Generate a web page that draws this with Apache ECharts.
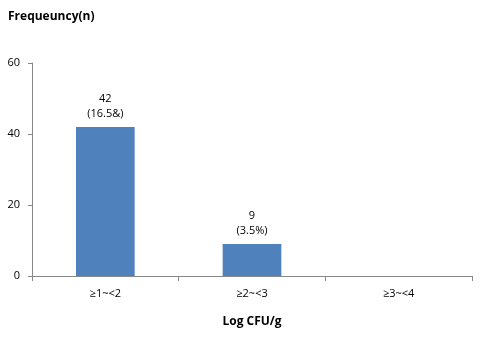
<!DOCTYPE html>
<html><head><meta charset="utf-8">
<script src="https://cdn.jsdelivr.net/npm/echarts@6/dist/echarts.min.js"></script>
<style>html,body{margin:0;padding:0;background:#fff}#c{width:482px;height:338px}</style>
</head><body><div id="c"></div>
<script>
var categories = ['≥1~<2', '≥2~<3', '≥3~<4'];
var values = [42, 9, 0];
var pointLabels = ['42\n(16.5&)', '9\n(3.5%)', ''];
var yTicks = [0, 20, 40, 60];

var chart = echarts.init(document.getElementById('c'));
var font = '"Open Sans", "DejaVu Sans", sans-serif';
chart.setOption({
  animation: false,
  textStyle: {fontFamily: font},
  title: {text: 'Frequeuncy(n)', left: 3, top: 6,
    textStyle: {fontSize: 12, fontWeight: 'bold', color: '#000', fontFamily: font}},
  grid: {left: 32, right: 10, top: 63, bottom: 62},
  xAxis: {
    type: 'category', data: categories,
    name: 'Log CFU/g', nameLocation: 'middle', nameGap: 40,
    nameTextStyle: {fontSize: 12, fontWeight: 'bold', color: '#000'},
    axisLine: {lineStyle: {color: '#888'}},
    axisTick: {show: true, length: 5, lineStyle: {color: '#888'}},
    axisLabel: {fontSize: 11, color: '#000', margin: 12}
  },
  yAxis: {
    type: 'value', min: yTicks[0], max: yTicks[yTicks.length-1], interval: 20,
    axisLine: {show: true, lineStyle: {color: '#888'}},
    axisTick: {show: true, length: 4, lineStyle: {color: '#888'}},
    splitLine: {show: false},
    axisLabel: {fontSize: 11, color: '#000', margin: 12}
  },
  series: [{
    type: 'bar', data: values, barWidth: '40%',
    itemStyle: {color: '#4f81bd'},
    label: {show: true, position: 'top', distance: 6, fontSize: 11, color: '#000', lineHeight: 15,
      formatter: function(p){ return pointLabels[p.dataIndex]; }}
  }]
});
</script></body></html>
